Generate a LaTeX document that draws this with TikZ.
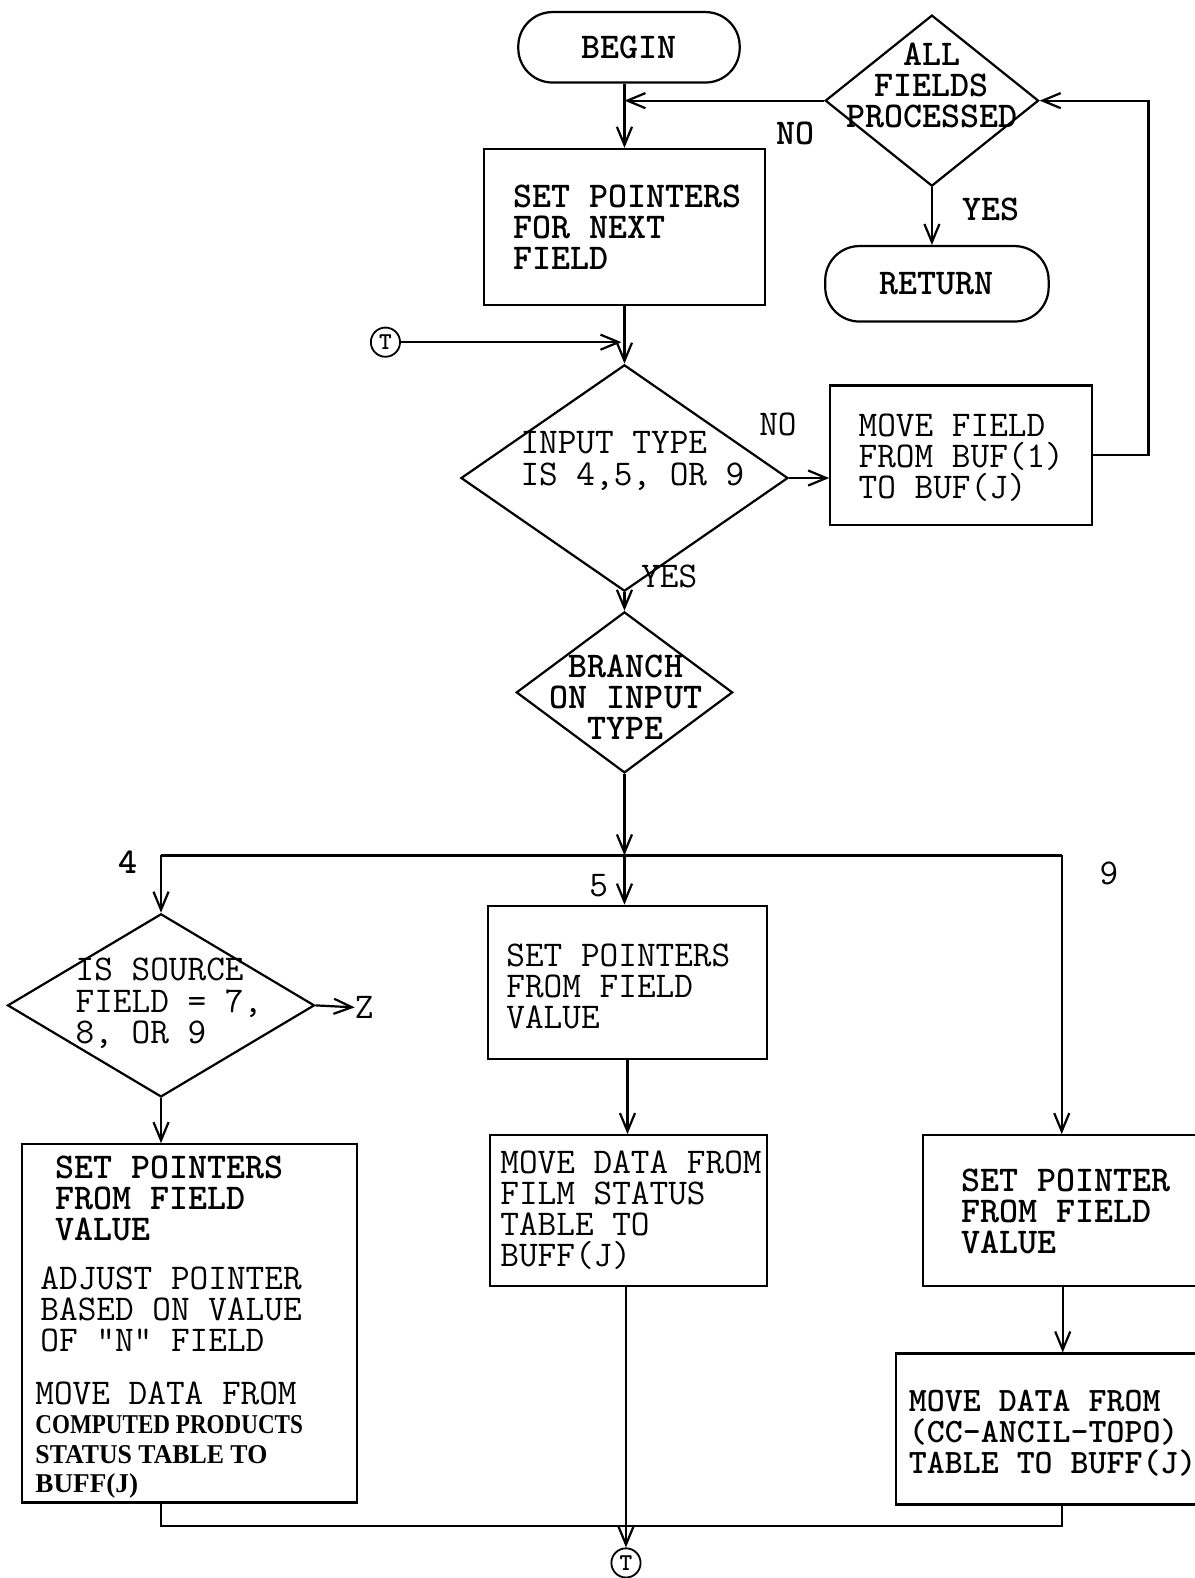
\documentclass[tikz,border=0pt]{standalone}
\usepackage{graphicx}
\usepackage{fontspec}
\newfontfamily\cpfont{Liberation Serif}
\usetikzlibrary{shapes.geometric,arrows.meta,calc}
\newcommand\fsz{\fontsize{36}{31}\selectfont}
\newcommand\cpline[2]{\scalebox{#1}[1]{\fontsize{27}{29}\selectfont\cpfont\bfseries #2}}
\begin{document}
\begin{tikzpicture}[x=1pt,y=-1pt,
  line/.style={line width=2.2pt},
  arr/.style={line width=2.2pt,-{Straight Barb[length=18pt,width=15pt]}},
  proc/.style={draw,line width=2.2pt,rectangle,inner sep=0pt},
  term/.style={draw,line width=2.2pt,rectangle,rounded corners=34pt,inner sep=0pt,font=\fsz\ttfamily\bfseries},
  dia/.style={draw,line width=2.2pt,diamond,inner sep=0pt},
  txt/.style={inner sep=0pt,align=left,anchor=west,font=\fsz\ttfamily},
  btxt/.style={inner sep=0pt,align=left,anchor=west,font=\fsz\ttfamily\bfseries},
  lbl/.style={inner sep=0pt,font=\fsz\ttfamily},
  blbl/.style={inner sep=0pt,font=\fsz\ttfamily\bfseries},
  conn/.style={draw,circle,line width=1.8pt,inner sep=0pt,minimum size=29pt,font=\fontsize{24}{24}\selectfont\ttfamily\bfseries}]
\path[use as bounding box,fill=white] (0,0) rectangle (1187,1568);

% top part
\node[term,minimum width=220pt,minimum height=70pt] (begin) at (625,47) {BEGIN};
\node[proc,minimum width=279pt,minimum height=155pt] (b1) at (620.5,225.5) {};
\node[btxt] (b1t) at (510,226) {SET POINTERS\\FOR NEXT\\FIELD};
\node[dia,minimum width=212pt,minimum height=170pt] (d1) at (926,100) {};
\node[inner sep=0pt,align=center,font=\fsz\ttfamily\bfseries] (d1t) at (926,85) {ALL\\FIELDS\\PROCESSED};
\node[blbl] (no1) at (790,133) {NO};
\node[blbl] (yes1) at (985,208) {YES};
\node[term,minimum width=222pt,minimum height=75pt] (ret) at (931,282) {RETURN};

\node[conn] (t1) at (383,340) {T};
\node[dia,minimum width=325pt,minimum height=225pt] (d2) at (620.5,475) {};
\node[txt] (d2t) at (517,458) {INPUT TYPE\\IS 4,5, OR 9};
\node[lbl] (no2) at (773,422) {NO};
\node[proc,minimum width=260pt,minimum height=139pt] (mv) at (955,452.5) {};
\node[txt] (mvt) at (853,455) {MOVE FIELD\\FROM BUF(1)\\TO BUF(J)};
\node[lbl,anchor=west] (yes2) at (637,573) {YES};

\node[dia,minimum width=215pt,minimum height=160pt] (d3) at (620.5,688) {};
\node[inner sep=0pt,align=center,font=\fsz\ttfamily\bfseries] (d3t) at (622,693) {BRANCH\\ON INPUT\\TYPE};

% bus
\coordinate (c4) at (160,850);
\coordinate (c5) at (620.5,850);
\coordinate (c9) at (1055,850);
\node[blbl] (l4) at (127,857) {4};
\node[lbl] (l5) at (595,880) {5};
\node[lbl] (l9) at (1102,868) {9};

% left branch
\node[dia,minimum width=305pt,minimum height=182pt] (d4) at (160,999) {};
\node[txt] (d4t) at (75,997) {IS SOURCE\\FIELD = 7,\\8, OR 9};
\node[lbl] (zl) at (362,1001) {Z};
\node[proc,minimum width=333pt,minimum height=356pt] (b4) at (188.5,1315) {};
\node[btxt] (b4a) at (55,1191) {SET POINTERS\\FROM FIELD\\VALUE};
\node[txt] (b4b) at (40,1301) {ADJUST POINTER\\BASED ON VALUE\\OF "N" FIELD};
\node[inner sep=0pt,align=left,anchor=west,font=\fontsize{36}{29}\selectfont\ttfamily] (b4c) at (35,1431) {MOVE DATA FROM\\\cpline{0.85}{COMPUTED PRODUCTS}\\\cpline{0.95}{STATUS TABLE TO}\\\cpline{1}{BUFF(J)}};

% middle branch
\node[proc,minimum width=277pt,minimum height=152pt] (b5) at (623.5,976) {};
\node[txt] (b5t) at (503,980) {SET POINTERS\\FROM FIELD\\VALUE};
\node[proc,minimum width=275pt,minimum height=150pt] (b6) at (624.5,1203) {};
\node[txt] (b6t) at (497,1202.5) {MOVE DATA FROM\\FILM STATUS\\TABLE TO\\BUFF(J)};
\node[conn] (t2) at (622,1553) {T};

% right branch
\node[proc,minimum width=278pt,minimum height=150pt] (b7) at (1056,1203) {};
\node[btxt] (b7t) at (955,1204) {SET POINTER\\FROM FIELD\\VALUE};
\node[proc,minimum width=305pt,minimum height=150pt] (b8) at (1042.5,1420) {};
\node[inner sep=0pt,align=left,anchor=west,font=\fontsize{34}{31}\selectfont\ttfamily\bfseries] (b8t) at (903,1424) {MOVE DATA FROM\\(CC-ANCIL-TOPO)\\TABLE TO BUFF(J)};

% connectors
\draw[arr] (begin.south -| b1.north) -- (b1.north);
\draw[arr] (d1.west) -- (d1.west -| b1.north);
\draw[arr] (d1.south) -- (d1.south |- ret.north);
\draw[arr] (mv.east) -- ++(55,0) |- (d1.east);
\draw[arr] (b1.south) -- (d2.north);
\draw[arr] (t1.east) -- ($(t1.east -| b1.south)+(-3,0)$);
\draw[arr] (d2.east) -- (d2.east -| mv.west);
\draw[arr] (d2.south) -- (d3.north);
\draw[arr] (d3.south) -- (c5);
\draw[line] (c4) -- (c9);
\draw[arr] (c4) -- (d4.north);
\draw[arr] (d4.east) -- (zl.west);
\draw[arr] (d4.south) -- (d4.south |- b4.north);
\draw[arr] (c5) -- (c5 |- b5.north);
\draw[arr] (b5.south) -- (b5.south |- b6.north);
\draw[arr] (b6.south -| t2.north) -- (t2.north);
\draw[arr] (c9) -- (c9 |- b7.north);
\draw[arr] (b7.south) -- (b7.south |- b8.north);
\draw[line] (b4.south -| d4.south) -- ++(0,22) -| (b8.south -| c9);
\end{tikzpicture}
\end{document}
